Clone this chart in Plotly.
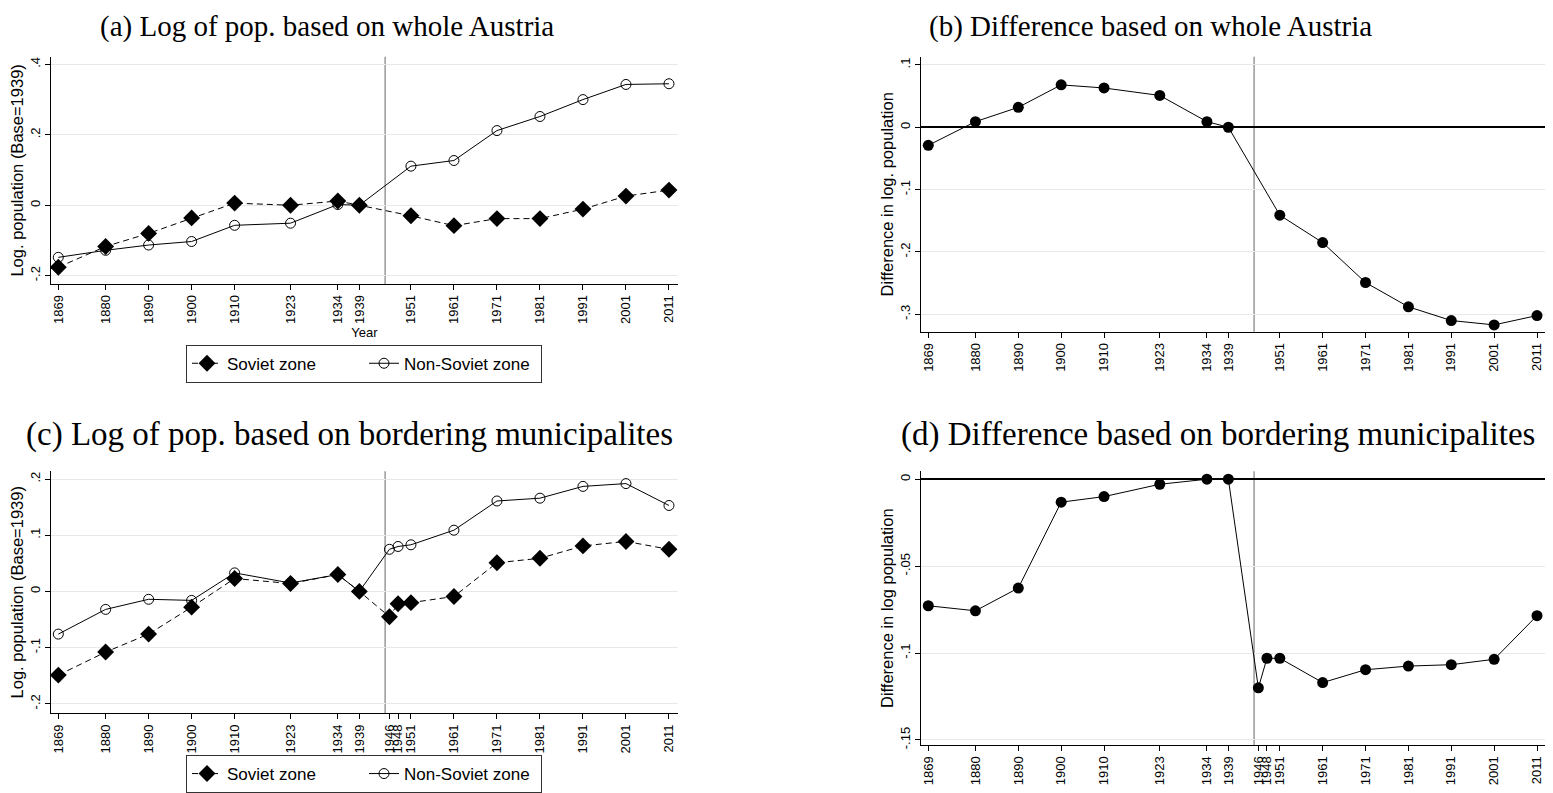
import plotly.graph_objects as go

# ---------------- data ----------------
years_whole = [1869, 1880, 1890, 1900, 1910, 1923, 1934, 1939, 1951, 1961, 1971, 1981, 1991, 2001, 2011]
soviet_whole = [-0.176, -0.117, -0.080, -0.036, 0.006, 0.000, 0.012, 0.000, -0.030, -0.058, -0.038, -0.038, -0.011, 0.026, 0.043]
nonsoviet_whole = [-0.148, -0.128, -0.113, -0.103, -0.057, -0.051, 0.002, 0.000, 0.111, 0.127, 0.212, 0.252, 0.300, 0.343, 0.345]
diff_whole = [-0.029, 0.009, 0.032, 0.068, 0.063, 0.051, 0.009, 0.000, -0.141, -0.185, -0.249, -0.288, -0.310, -0.317, -0.302]

years_border = [1869, 1880, 1890, 1900, 1910, 1923, 1934, 1939, 1946, 1948, 1951, 1961, 1971, 1981, 1991, 2001, 2011]
soviet_border = [-0.149, -0.108, -0.076, -0.028, 0.023, 0.014, 0.030, 0.000, -0.045, -0.022, -0.020, -0.009, 0.051, 0.059, 0.081, 0.089, 0.075]
nonsoviet_border = [-0.076, -0.032, -0.014, -0.016, 0.033, 0.015, 0.030, 0.000, 0.075, 0.080, 0.083, 0.109, 0.161, 0.166, 0.187, 0.192, 0.153]
diff_border = [-0.0728, -0.0757, -0.0626, -0.0132, -0.0100, -0.0029, 0.0, 0.0, -0.120, -0.103, -0.103, -0.117, -0.1096, -0.1075, -0.1067, -0.1036, -0.0785]

titles = ["(a) Log of pop. based on whole Austria",
          "(b) Difference based on whole Austria",
          "(c) Log of pop. based on bordering municipalites",
          "(d) Difference based on bordering municipalites"]
ytitles = ["Log. population (Base=1939)", "Difference in log. population",
           "Log. population (Base=1939)", "Difference in log population"]
yticks_a = [-0.2, 0, 0.2, 0.4]
yticks_b = [-0.3, -0.2, -0.1, 0, 0.1]
yticks_c = [-0.2, -0.1, 0, 0.1, 0.2]
yticks_d = [-0.15, -0.1, -0.05, 0]
ylabels_a = ["-.2", "0", ".2", ".4"]
ylabels_b = ["-.3", "-.2", "-.1", "0", ".1"]
ylabels_c = ["-.2", "-.1", "0", ".1", ".2"]
ylabels_d = ["-.15", "-.1", "-.05", "0"]
break_year = 1945
legend_names = ["Soviet zone", "Non-Soviet zone"]

# ---------------- layout helpers ----------------
OFF = 8  # page body margin
REF_W, REF_H = 1553, 793
W, H = REF_W - OFF, REF_H - OFF
def px_x(p):
    return (p - OFF) / W
def px_y(p):
    return 1 - (p - OFF) / H

SANS = "Liberation Sans, Arial, sans-serif"
SERIF = "Liberation Serif, Times New Roman, serif"
GRID = "#e8e8e8"
xrange_ = [1867.3, 2013.1]

fig = go.Figure()

def add_pair(years, sov, non, xa, ya, legend):
    fig.add_trace(go.Scatter(
        x=years, y=sov, mode="lines+markers", name=legend_names[0],
        line=dict(color="black", width=1, dash="6px,4px"),
        marker=dict(symbol="diamond", size=13, color="black"),
        xaxis=xa, yaxis=ya, legend=legend))
    fig.add_trace(go.Scatter(
        x=years, y=non, mode="lines+markers", name=legend_names[1],
        line=dict(color="black", width=1),
        marker=dict(symbol="circle-open", size=10, color="black", line=dict(width=1)),
        xaxis=xa, yaxis=ya, legend=legend))

def add_diff(years, d, xa, ya):
    fig.add_trace(go.Scatter(
        x=years, y=d, mode="lines+markers", showlegend=False,
        line=dict(color="black", width=1),
        marker=dict(symbol="circle", size=11, color="black"),
        xaxis=xa, yaxis=ya))

add_pair(years_whole, soviet_whole, nonsoviet_whole, "x", "y", "legend")
add_diff(years_whole, diff_whole, "x2", "y2")
add_pair(years_border, soviet_border, nonsoviet_border, "x3", "y3", "legend2")
add_diff(years_border, diff_border, "x4", "y4")

def xaxis_cfg(dom, years, anchor, title=None):
    d = dict(domain=dom, range=xrange_, anchor=anchor,
             tickvals=years, ticktext=[str(y) for y in years],
             tickangle=-90, ticks="outside", ticklen=5, tickcolor="black",
             showline=True, linecolor="black", linewidth=1,
             showgrid=False, zeroline=False,
             tickfont=dict(family=SANS, size=13, color="black"))
    if title:
        d["title"] = dict(text=title, font=dict(family=SANS, size=13, color="black"), standoff=4)
    return d

def yaxis_cfg(dom, rng, vals, labels, title, anchor, zero=False):
    return dict(domain=dom, range=rng, anchor=anchor,
                tickvals=vals, ticktext=labels, tickangle=-90,
                ticks="outside", ticklen=5, tickcolor="black",
                showline=True, linecolor="black", linewidth=1,
                showgrid=True, gridcolor=GRID, gridwidth=1,
                zeroline=zero, zerolinecolor="black", zerolinewidth=2,
                tickfont=dict(family=SANS, size=13, color="black"),
                title=dict(text=title, font=dict(family=SANS, size=16.5, color="black"), standoff=0))

left_x = [px_x(51), px_x(678)]
right_x = [px_x(921), px_x(1546)]
top_a = [px_y(285), px_y(57)]
top_b = [px_y(333), px_y(57)]
bot_c = [px_y(716), px_y(473)]
bot_d = [px_y(748), px_y(473)]

leg_common = dict(orientation="h", xanchor="center", yanchor="top",
                  bordercolor="#333333", borderwidth=1, bgcolor="white",
                  font=dict(family=SANS, size=17, color="black"),
                  entrywidth=132, entrywidthmode="pixels",
                  tracegroupgap=0)

fig.update_layout(
    width=W, height=H, margin=dict(l=0, r=0, t=0, b=0),
    paper_bgcolor="white", plot_bgcolor="white",
    xaxis=xaxis_cfg(left_x, years_whole, "y", "Year"),
    yaxis=yaxis_cfg(top_a, [-0.2235, 0.4215], yticks_a, ylabels_a, ytitles[0], "x"),
    xaxis2=xaxis_cfg(right_x, years_whole, "y2"),
    yaxis2=yaxis_cfg(top_b, [-0.328, 0.113], yticks_b, ylabels_b, ytitles[1], "x2", zero=True),
    xaxis3=xaxis_cfg(left_x, years_border, "y3"),
    yaxis3=yaxis_cfg(bot_c, [-0.217, 0.214], yticks_c, ylabels_c, ytitles[2], "x3"),
    xaxis4=xaxis_cfg(right_x, years_border, "y4"),
    yaxis4=yaxis_cfg(bot_d, [-0.153, 0.0046], yticks_d, ylabels_d, ytitles[3], "x4", zero=True),
    legend=dict(x=px_x(364), y=px_y(346), **leg_common),
    legend2=dict(x=px_x(364), y=px_y(758), **leg_common),
    showlegend=True,
)

# vertical break lines
for xr, yr in [("x", "y"), ("x2", "y2"), ("x3", "y3"), ("x4", "y4")]:
    fig.add_shape(type="line", xref=xr, yref=yr + " domain", x0=break_year, x1=break_year,
                  y0=0, y1=1, line=dict(color="#999999", width=1.5), layer="below")

# panel titles: (centre x, top y, font size)
title_pos = [(327, 8, 29), (1150, 8, 29), (349, 416, 33), (1218, 416, 33)]
for t, (cx, cy, fs) in zip(titles, title_pos):
    fig.add_annotation(text=t, xref="paper", yref="paper", x=px_x(cx), y=px_y(cy),
                       xanchor="center", yanchor="top", showarrow=False,
                       font=dict(family=SERIF, size=fs, color="black"))

fig.write_html("out.html")
